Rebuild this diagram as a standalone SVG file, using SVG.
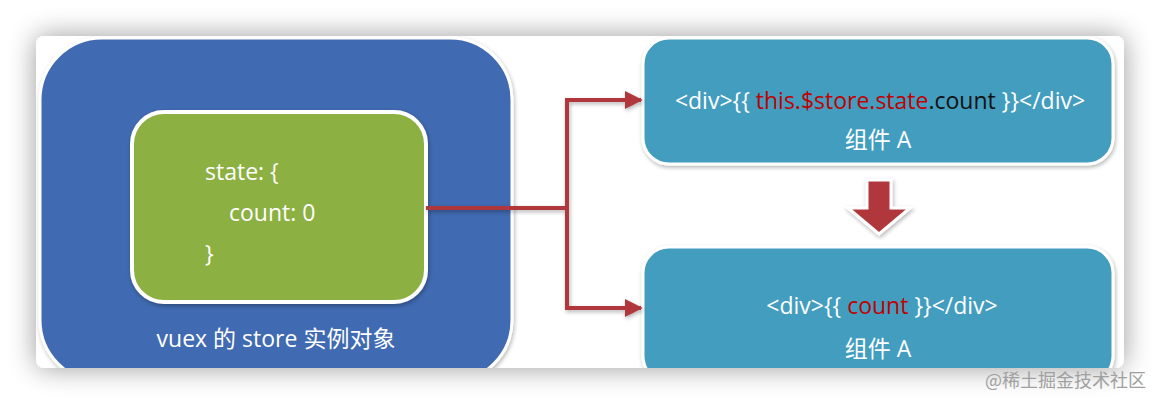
<svg xmlns="http://www.w3.org/2000/svg" width="1160" height="404" viewBox="0 0 1160 404">
<defs>
<style>
.t{font-family:"Open Sans","Noto Sans CJK SC",sans-serif;font-size:23px;fill:#ffffff}
.red{fill:#C00000}
.blk{fill:#111111}
.conn{fill:none;stroke:#B0393C;stroke-width:4}
.wm{font-family:"Noto Sans CJK SC",sans-serif;font-size:18px;fill:#a0a0a0}
</style>
<filter id="cardShadow" x="-5%" y="-20%" width="110%" height="140%">
<feGaussianBlur in="SourceAlpha" stdDeviation="14"/>
<feOffset dx="0" dy="0"/>
<feComponentTransfer><feFuncA type="linear" slope="0.4"/></feComponentTransfer>
<feMerge><feMergeNode/><feMergeNode in="SourceGraphic"/></feMerge>
</filter>
<filter id="sh" x="-10%" y="-10%" width="120%" height="120%">
<feGaussianBlur in="SourceAlpha" stdDeviation="2"/>
<feOffset dx="1" dy="2"/>
<feComponentTransfer><feFuncA type="linear" slope="0.3"/></feComponentTransfer>
<feMerge><feMergeNode/><feMergeNode in="SourceGraphic"/></feMerge>
</filter>
<clipPath id="cardClip"><rect x="36" y="36" width="1088" height="332" rx="8"/></clipPath>
<marker id="ah" viewBox="0 0 10 10" refX="9" refY="5" markerWidth="4.5" markerHeight="4.5" orient="auto" markerUnits="strokeWidth">
<path d="M0,0 L10,5 L0,10 z" fill="#B0393C"/>
</marker>
</defs>
<rect x="0" y="0" width="1160" height="404" fill="#ffffff"/>
<rect x="36" y="36" width="1088" height="332" rx="8" fill="#ffffff" filter="url(#cardShadow)"/>
<g clip-path="url(#cardClip)">
<g id="store">
<rect x="40" y="38" width="472" height="344" rx="62" fill="#416BB1" stroke="#ffffff" stroke-width="3" filter="url(#sh)"/>
<text class="t" x="276" y="347" text-anchor="middle">vuex 的 store 实例对象</text>
</g>
<g id="state">
<rect x="132" y="112" width="294" height="190" rx="32" fill="#8CB043" stroke="#ffffff" stroke-width="4" filter="url(#sh)"/>
<text class="t" x="205" y="180">state: {</text>
<text class="t" x="229" y="221">count: 0</text>
<text class="t" x="205" y="262">}</text>
</g>
<g id="compA1">
<rect x="643" y="38" width="470" height="126" rx="26" fill="#439DBF" stroke="#ffffff" stroke-width="3" filter="url(#sh)"/>
<text class="t" x="880" y="109" text-anchor="middle">&lt;div&gt;{{ <tspan class="red">this.$store.state</tspan><tspan class="blk">.count</tspan> }}&lt;/div&gt;</text>
<text class="t" x="878" y="148" text-anchor="middle">组件 A</text>
</g>
<g id="compA2">
<rect x="643" y="247" width="470" height="135" rx="26" fill="#439DBF" stroke="#ffffff" stroke-width="3" filter="url(#sh)"/>
<text class="t" x="882" y="314" text-anchor="middle">&lt;div&gt;{{ <tspan class="red">count</tspan> }}&lt;/div&gt;</text>
<text class="t" x="878" y="357" text-anchor="middle">组件 A</text>
</g>
<g id="downArrow">
<path d="M867,180 L891,180 L891,208 L910,208 L879,234 L848,208 L867,208 Z" fill="#B0393C" stroke="#ffffff" stroke-width="3" stroke-linejoin="miter" filter="url(#sh)"/>
</g>
<g id="connectors" filter="url(#sh)">
<path class="conn" d="M426,208 L567,208"/>
<path class="conn" d="M567,100 L567,310"/>
<path class="conn" d="M565,100 L641,100" marker-end="url(#ah)"/>
<path class="conn" d="M565,308 L641,308" marker-end="url(#ah)"/>
</g>
</g>
<text class="wm" x="985" y="387">@稀土掘金技术社区</text>
</svg>
